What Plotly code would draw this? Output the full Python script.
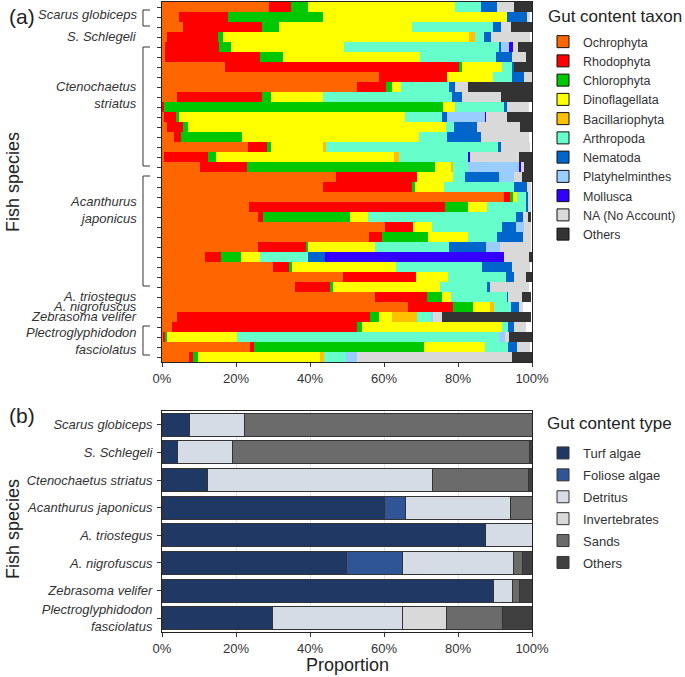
import plotly.graph_objects as go

# ---------------- Panel (a) data: one row per individual fish (top to bottom) ----------------
taxa = ["Ochrophyta", "Rhodophyta", "Chlorophyta", "Dinoflagellata", "Bacillariophyta",
        "Arthropoda", "Nematoda", "Platyhelminthes", "Mollusca", "NA (No Account)", "Others"]
taxa_colors = ["#FF6600", "#FF0000", "#00C800", "#FFFF00", "#FFC000",
               "#66FFCC", "#0066CC", "#99CCFF", "#3300FF", "#D9D9D9", "#333333"]

ochrophyta = [28.9, 4.6, 5.8, 1.4, 0.8, 0.8, 17, 58.6, 52.8, 4.0, 0, 0.5, 1.3, 3.2, 23.3, 0.5, 10.3, 47,
              43.6, 92.3, 23.6, 26, 60.3, 56, 26, 11.6, 30.1, 48.8, 35.9, 57.6, 66.6, 4.1, 2.8, 0.4, 23.8, 7.3]
rhodophyta = [6.0, 13.3, 21.1, 13.6, 14.7, 25.7, 63.4, 18.3, 7.7, 22.9, 0.5, 3.2, 4.5, 1.9, 5.2, 12.0, 12.6, 21.8,
              23.9, 2.0, 52.9, 1.2, 7.6, 3.4, 12.9, 4.3, 4.3, 19.8, 9.5, 14.1, 12.0, 52.1, 50.0, 0.4, 1.1, 1.2]
chlorophyta = [4.6, 25.7, 4.8, 1.6, 3.1, 6.3, 0.7, 0, 1.6, 2.6, 75.5, 0.9, 1.1, 16.4, 0.9, 2.0, 50.9, 0,
               0.9, 0.5, 6.1, 23.6, 0, 12.6, 0.6, 5.5, 0.7, 0, 0.9, 3.9, 5.4, 2.5, 1.3, 0.6, 45.9, 1.1]
dinoflagellata = [39.7, 49.6, 35.8, 66.4, 30.6, 36.9, 10.9, 12.5, 2.4, 14.1, 3.2, 61.1, 69.8, 48.0, 14.2, 48.3, 4.3, 9.9,
                  7.9, 1.1, 5.3, 5.0, 5.0, 10.8, 18.2, 5.1, 28.1, 8.8, 28.8, 2.5, 4.6, 3.5, 37.9, 19.0, 16.5, 33.1]
bacillariophyta = [0, 0, 0, 1.6, 0, 0, 0, 0, 0, 0, 0, 0, 0, 0, 0.6, 1.3, 0.6, 0,
                   0, 0, 0, 0, 0, 0, 0, 0, 0, 0, 0, 0, 1.2, 6.6, 0, 0, 0, 1.1]
arthropoda = [6.9, 0, 22.0, 2.4, 42.0, 20.5, 2.7, 5.3, 13.2, 34.8, 13.1, 10.1, 2.2, 7.6, 46.7, 18.7, 4.1, 3.2,
              18.7, 2.7, 10.5, 39.8, 19.1, 7.8, 20.0, 12.9, 23.3, 15.5, 12.8, 15.2, 4.4, 4.1, 1.6, 70.7, 6.3, 5.9]
nematoda = [4.4, 5.5, 2.0, 1.9, 0.3, 4.3, 0.3, 3.2, 1.5, 2.6, 0.9, 1.1, 6.1, 9.0, 0.7, 0, 0, 9.3,
            3.6, 0.4, 0.4, 2.1, 3.7, 7.1, 9.8, 4.7, 8.1, 2.2, 0.7, 0.3, 2.4, 0, 1.5, 0, 2.4, 0]
platyhelminthes = [0, 0, 0, 0, 2.4, 0, 0, 0, 0, 0, 0, 10.4, 0, 0, 0, 0, 13.8, 3.9,
                   0, 0, 0, 0, 2.1, 0, 3.9, 0, 0, 0, 0, 0, 0, 0.3, 0, 1.6, 0, 2.9]
mollusca = [0, 0, 0, 0, 0.9, 0, 0, 0, 0, 0, 0, 0.3, 0, 0, 0, 0.4, 0.4, 0,
            0, 0, 0, 0, 0, 0, 0, 48.2, 0, 0, 0, 0, 0, 0, 0, 0, 0, 0]
na_no_account = [4.5, 0.8, 2.8, 10.6, 1.3, 3.8, 0, 2.1, 3.6, 10.5, 6.0, 5.6, 11.8, 13.1, 7.9, 13.3, 0.8, 2.1,
                 1.0, 0.6, 0.8, 1.1, 1.8, 1.9, 8.2, 7.0, 4.9, 3.3, 10.6, 3.6, 1.1, 2.4, 3.2, 1.2, 3.5, 41.9]
others_a = [5.0, 0, 5.7, 0, 3.9, 1.7, 5.0, 0, 17.2, 8.5, 0, 6.8, 3.2, 0, 0, 3.5, 2.2, 2.8,
            0, 0, 0, 0.8, 0, 0, 0, 0.6, 0, 1.5, 0, 2.4, 0, 24.0, 0, 6.0, 0, 5.4]
taxa_values = [ochrophyta, rhodophyta, chlorophyta, dinoflagellata, bacillariophyta, arthropoda,
               nematoda, platyhelminthes, mollusca, na_no_account, others_a]

row_index = list(range(36))

# species groups in panel (a)
group_labels = ["Scarus globiceps", "S. Schlegeli", "Ctenochaetus<br>striatus", "Acanthurus<br>japonicus",
                "A. triostegus", "A. nigrofuscus", "Zebrasoma velifer", "Plectroglyphidodon<br>fasciolatus"]
group_label_pos = [0.8, 3.0, 8.8, 20.3, 28.9, 29.9, 30.9, 33.4]
group_bracket = [True, False, True, True, False, False, False, True]
bracket_top = [0.3, None, 4.0, 16.9, None, None, None, 31.9]
bracket_bottom = [1.9, None, 15.9, 27.9, None, None, None, 34.8]

# ---------------- Panel (b) data ----------------
species_b = ["Scarus globiceps", "S. Schlegeli", "Ctenochaetus striatus", "Acanthurus japonicus",
             "A. triostegus", "A. nigrofuscus", "Zebrasoma velifer", "Plectroglyphidodon<br>fasciolatus"]
types_b = ["Turf algae", "Foliose algae", "Detritus", "Invertebrates", "Sands", "Others"]
types_colors = ["#1F3864", "#2F5597", "#D6DCE5", "#D9D9D9", "#6B6B6B", "#404040"]
turf_algae = [7.4, 4.2, 12.3, 60.1, 87.3, 49.9, 89.5, 29.9]
foliose_algae = [0, 0, 0, 5.6, 0, 15.0, 0, 0]
detritus = [15.0, 14.9, 60.9, 28.4, 12.7, 30.0, 5.1, 35.0]
invertebrates = [0, 0, 0, 0, 0, 0, 0, 12.0]
sands = [77.6, 80.1, 25.8, 5.9, 0, 2.5, 1.9, 15.0]
others_b = [0, 0.8, 1.0, 0, 0, 2.6, 3.5, 8.1]
types_values = [turf_algae, foliose_algae, detritus, invertebrates, sands, others_b]

x_ticks = [0, 20, 40, 60, 80, 100]
x_ticktext = ["0%", "20%", "40%", "60%", "80%", "100%"]

FONT = "Liberation Sans, Arial, sans-serif"
W, H = 685, 677

fig = go.Figure()

# panel (a) bars
for name, col, vals in zip(taxa, taxa_colors, taxa_values):
    fig.add_trace(go.Bar(
        x=vals, y=row_index, orientation="h", width=1.0, name=name,
        marker=dict(color=col, line=dict(width=0)), showlegend=False,
        xaxis="x", yaxis="y", hoverinfo="x+name"))
# panel (a) legend entries (outlined squares)
for name, col in zip(taxa, taxa_colors):
    fig.add_trace(go.Bar(
        x=[None], y=[None], orientation="h", name=name,
        marker=dict(color=col, line=dict(color="#111111", width=1)),
        xaxis="x", yaxis="y", legend="legend", showlegend=True))

# panel (b) bars
for i, (name, col, vals) in enumerate(zip(types_b, types_colors, types_values)):
    fig.add_trace(go.Bar(
        x=vals, y=species_b, orientation="h", width=0.83, name=name,
        marker=dict(color=col, line=dict(color="#333333", width=1)),
        xaxis="x2", yaxis="y2", legend="legend2", legendgroup="g%d" % i))

dom_x = [162 / W, 532 / W]
ya_dom = [1 - 362 / H, 1 - 2 / H]
yb_dom = [1 - 632 / H, 1 - 411 / H]

axis_common = dict(showline=True, linecolor="#222222", linewidth=1, mirror=True,
                   ticks="outside", ticklen=4, tickcolor="#333333",
                   tickfont=dict(family=FONT, size=13, color="#333333"))

fig.update_layout(
    width=W, height=H, barmode="stack",
    margin=dict(l=0, r=0, t=0, b=0, pad=0, autoexpand=False),
    paper_bgcolor="white", plot_bgcolor="white",
    font=dict(family=FONT, size=13, color="#222222"),
    xaxis=dict(domain=dom_x, anchor="y", range=[0, 100], tickvals=x_ticks, ticktext=x_ticktext,
               showgrid=False, zeroline=False, **axis_common),
    yaxis=dict(domain=ya_dom, anchor="x", range=[35.5, -0.5], tickvals=row_index,
               ticktext=[""] * 36, showgrid=False, zeroline=False, **axis_common),
    xaxis2=dict(domain=dom_x, anchor="y2", range=[0, 100], tickvals=x_ticks, ticktext=x_ticktext,
                showgrid=True, gridcolor="#E3E3E3", zeroline=False, **axis_common),
    yaxis2=dict(domain=yb_dom, anchor="x2", autorange="reversed", categoryorder="array",
                categoryarray=species_b, showgrid=False, zeroline=False, ticklabelstandoff=2,
                **{k: v for k, v in axis_common.items() if k != "tickfont"},
                tickfont=dict(family=FONT, size=13, color="#333333", style="italic")),
    legend=dict(x=543 / W, y=1 - 27 / H, xanchor="left", yanchor="top", traceorder="normal",
                font=dict(family=FONT, size=12.5, color="#333333"), bgcolor="rgba(0,0,0,0)",
                itemclick=False),
    legend2=dict(x=543 / W, y=1 - 438 / H, xanchor="left", yanchor="top", traceorder="grouped",
                 font=dict(family=FONT, size=13, color="#333333"), bgcolor="rgba(0,0,0,0)",
                 tracegroupgap=2, itemclick=False),
)

annotations = []
shapes = []
for lab, pos, br, bt, bb in zip(group_labels, group_label_pos, group_bracket, bracket_top, bracket_bottom):
    annotations.append(dict(text="<i>%s</i>" % lab, x=139 / W, xref="paper", y=pos, yref="y",
                            xanchor="right", yanchor="middle", showarrow=False, align="right",
                            font=dict(family=FONT, size=13, color="#333333")))
    if br:
        x0, x1 = 143 / W, 150 / W
        shapes.append(dict(type="path", xref="paper", yref="y",
                           path="M %f,%f L %f,%f L %f,%f L %f,%f" % (x1, bt, x0, bt, x0, bb, x1, bb),
                           line=dict(color="#333333", width=1)))

annotations += [
    dict(text="(a)", x=7 / W, y=1 - 17 / H, xref="paper", yref="paper", xanchor="left", yanchor="middle",
         showarrow=False, font=dict(family=FONT, size=21, color="#222222")),
    dict(text="(b)", x=7 / W, y=1 - 415 / H, xref="paper", yref="paper", xanchor="left", yanchor="middle",
         showarrow=False, font=dict(family=FONT, size=21, color="#222222")),
    dict(text="Fish species", x=13 / W, y=1 - 182 / H, xref="paper", yref="paper", textangle=-90,
         xanchor="center", yanchor="middle", showarrow=False, font=dict(family=FONT, size=18, color="#222222")),
    dict(text="Fish species", x=13 / W, y=1 - 529 / H, xref="paper", yref="paper", textangle=-90,
         xanchor="center", yanchor="middle", showarrow=False, font=dict(family=FONT, size=18, color="#222222")),
    dict(text="Proportion", x=347 / W, y=1 - 665 / H, xref="paper", yref="paper",
         xanchor="center", yanchor="middle", showarrow=False, font=dict(family=FONT, size=18, color="#222222")),
    dict(text="Gut content taxon", x=546 / W, y=1 - 17 / H, xref="paper", yref="paper",
         xanchor="left", yanchor="middle", showarrow=False, font=dict(family=FONT, size=17, color="#222222")),
    dict(text="Gut content type", x=545 / W, y=1 - 424 / H, xref="paper", yref="paper",
         xanchor="left", yanchor="middle", showarrow=False, font=dict(family=FONT, size=17, color="#222222")),
]
fig.update_layout(annotations=annotations, shapes=shapes)

fig.write_html("out.html", config={"displayModeBar": False},
               post_script="document.body.style.margin='0';document.body.style.overflow='hidden';")
